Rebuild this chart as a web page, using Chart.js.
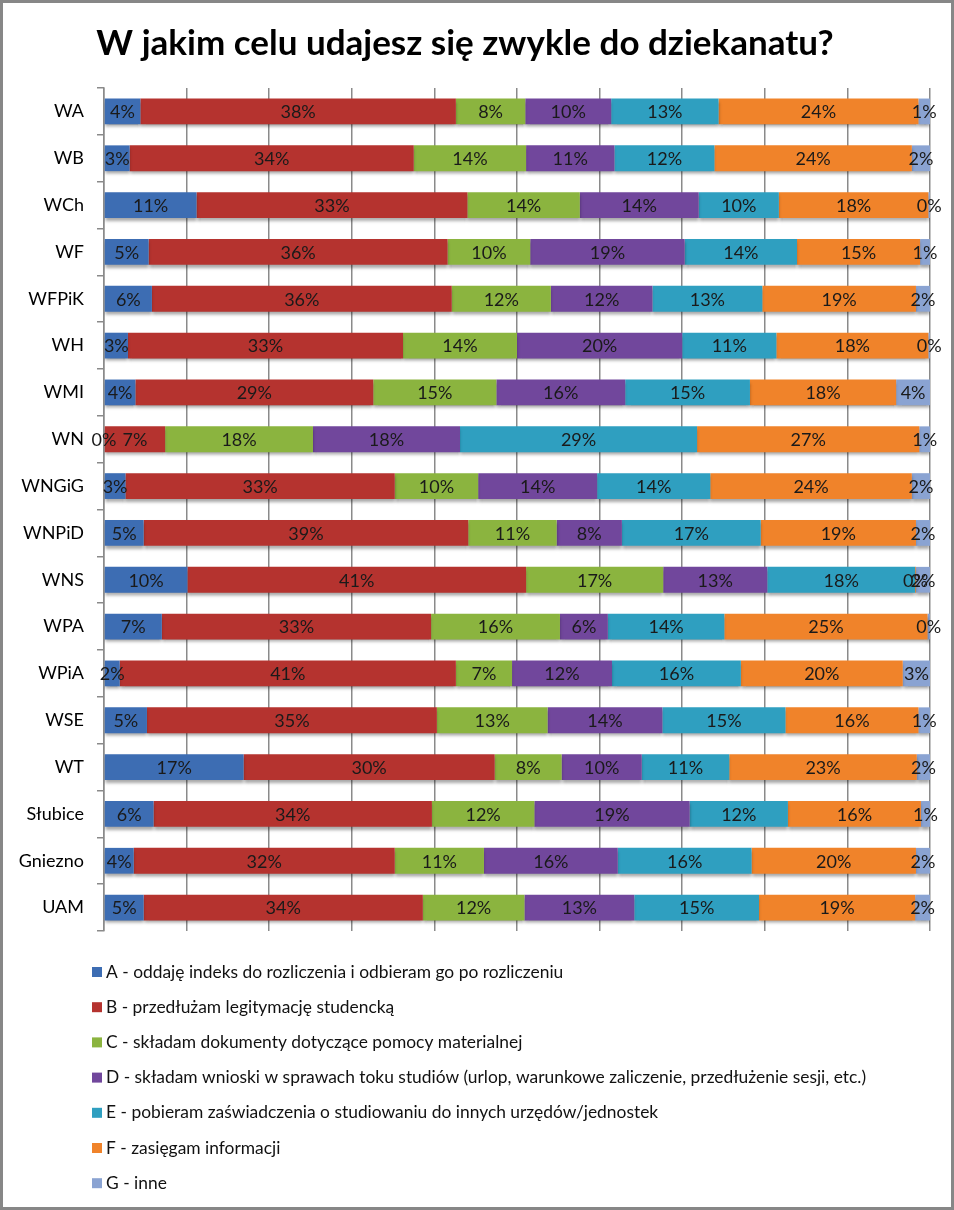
<!DOCTYPE html>
<html lang="pl">
<head>
    <meta charset="UTF-8">
    <title>W jakim celu udajesz się zwykle do dziekanatu?</title>
    <script src="https://cdn.jsdelivr.net/npm/chart.js"></script>
    <style>
        body { margin: 0; background: #fff; }
        canvas { display: block; }
    </style>
</head>
<body>
    <canvas id="deanChart" width="954" height="1210"></canvas>

    <script>
        // faculties, top to bottom
        const categories = ['WA', 'WB', 'WCh', 'WF', 'WFPiK', 'WH', 'WMI', 'WN', 'WNGiG', 'WNPiD',
            'WNS', 'WPA', 'WPiA', 'WSE', 'WT', 'Słubice', 'Gniezno', 'UAM'];

        const seriesNames = [
            'A - oddaję indeks do rozliczenia i odbieram go po rozliczeniu',
            'B - przedłużam legitymację studencką',
            'C - składam dokumenty dotyczące pomocy materialnej',
            'D - składam wnioski w sprawach toku studiów (urlop, warunkowe zaliczenie, przedłużenie sesji, etc.)',
            'E - pobieram zaświadczenia o studiowaniu do innych urzędów/jednostek',
            'F - zasięgam informacji',
            'G - inne'
        ];

        // percentages
        const seriesA = [4.4, 3.1, 11.2, 5.4, 5.8, 2.9, 3.8, 0, 2.6, 4.8, 10.1, 7.0, 1.9, 5.2, 16.9, 6.0, 3.6, 4.8];
        const seriesB = [38.2, 34.4, 32.8, 36.2, 36.3, 33.3, 28.8, 7.4, 32.6, 39.3, 41.0, 32.6, 40.7, 35.1, 30.4, 33.7, 31.6, 33.8];
        const seriesC = [8.4, 13.6, 13.6, 10.0, 12.0, 13.8, 14.9, 17.9, 10.1, 10.7, 16.6, 15.6, 6.8, 13.4, 8.1, 12.4, 10.8, 12.3];
        const seriesD = [10.4, 10.7, 14.4, 18.7, 12.3, 20.0, 15.6, 17.8, 14.4, 7.9, 12.6, 5.8, 12.1, 13.9, 9.7, 18.8, 16.2, 13.3];
        const seriesE = [13.0, 12.1, 9.7, 13.6, 13.3, 11.4, 15.1, 28.7, 13.7, 16.8, 17.9, 14.1, 15.6, 14.9, 10.6, 11.9, 16.2, 15.1];
        const seriesF = [24.2, 23.9, 18.1, 14.9, 18.6, 18.4, 17.7, 26.9, 24.4, 18.8, 0.1, 24.6, 19.6, 16.1, 22.7, 16.1, 19.9, 18.9];
        const seriesG = [1.4, 2.2, 0.2, 1.2, 1.7, 0.2, 4.1, 1.3, 2.2, 1.7, 1.7, 0.3, 3.3, 1.4, 1.6, 1.1, 1.7, 1.8];

        const seriesData = [seriesA, seriesB, seriesC, seriesD, seriesE, seriesF, seriesG];
        const colors = ['#3d6db3', '#b5332f', '#8bb43f', '#71479c', '#2f9fc0', '#f0832a', '#8aa3d2'];

        const FONT = 'Lato, "Open Sans", sans-serif';
        const GRID = '#8a8a8a';

        // white page + grey frame
        const framePlugin = {
            id: 'frame',
            beforeDraw(chart) {
                const c = chart.ctx;
                c.save();
                c.fillStyle = '#fff';
                c.fillRect(0, 0, chart.width, chart.height);
                c.restore();
            },
            afterDraw(chart) {
                const c = chart.ctx;
                c.save();
                c.strokeStyle = '#878787';
                c.lineWidth = 3;
                c.strokeRect(1.5, 1.5, chart.width - 3, chart.height - 3);
                c.restore();
            }
        };

        // soft shadow under bars, then the percentage labels
        const barExtras = {
            id: 'barExtras',
            beforeDatasetsDraw(chart) {
                const c = chart.ctx;
                c.save();
                c.shadowColor = 'rgba(0,0,0,0.35)';
                c.shadowBlur = 3;
                c.shadowOffsetY = 3;
            },
            afterDatasetsDraw(chart) {
                const c = chart.ctx;
                c.restore();
                c.save();
                c.font = '18px ' + FONT;
                c.fillStyle = '#1a1a1a';
                c.textAlign = 'center';
                c.textBaseline = 'middle';
                chart.data.datasets.forEach((ds, i) => {
                    chart.getDatasetMeta(i).data.forEach((bar, j) => {
                        const cx = (bar.x + bar.base) / 2;
                        c.fillText(Math.round(ds.data[j]) + '%', cx, bar.y + 1);
                    });
                });
                c.restore();
            }
        };

        // one legend entry per line under the plot
        const listLegend = {
            id: 'listLegend',
            afterDraw(chart) {
                const c = chart.ctx;
                c.save();
                c.font = '17.4px ' + FONT;
                c.textBaseline = 'middle';
                c.textAlign = 'left';
                chart.data.datasets.forEach((ds, i) => {
                    const y = 972 + i * 35.2;
                    c.fillStyle = ds.backgroundColor;
                    c.fillRect(92, y - 5, 10, 10);
                    c.fillStyle = '#111';
                    c.fillText(ds.label, 106, y);
                });
                c.restore();
            }
        };

        const ctx = document.getElementById('deanChart').getContext('2d');

        new Chart(ctx, {
            type: 'bar',
            data: {
                labels: categories,
                datasets: seriesData.map((d, i) => ({
                    label: seriesNames[i],
                    data: d,
                    backgroundColor: colors[i],
                    borderWidth: 0,
                    barPercentage: 0.55,
                    categoryPercentage: 1
                }))
            },
            options: {
                indexAxis: 'y',
                responsive: false,
                animation: false,
                devicePixelRatio: 1,
                layout: { padding: { top: 0, left: 0, right: 24, bottom: 279 } },
                plugins: {
                    legend: { display: false },
                    tooltip: { enabled: false },
                    title: {
                        display: true,
                        text: 'W jakim celu udajesz się zwykle do dziekanatu?',
                        color: '#000',
                        font: { family: FONT, size: 35, weight: 'bold' },
                        padding: { top: 22.5, bottom: 23.5 }
                    }
                },
                scales: {
                    x: {
                        stacked: true,
                        min: 0,
                        max: 100,
                        ticks: { display: false, stepSize: 10 },
                        grid: { color: GRID, lineWidth: 1.5, drawTicks: false },
                        border: { display: false },
                        afterFit: (scale) => { scale.height = 0; }
                    },
                    y: {
                        stacked: true,
                        ticks: { color: '#000', font: { family: FONT, size: 18 }, padding: 13 },
                        grid: { offset: true, drawOnChartArea: false, color: GRID, lineWidth: 1.5, tickLength: 7 },
                        border: { color: GRID, width: 1.5 },
                        afterFit: (scale) => { scale.width = 104; }
                    }
                }
            },
            plugins: [framePlugin, barExtras, listLegend]
        });
    </script>
</body>
</html>
